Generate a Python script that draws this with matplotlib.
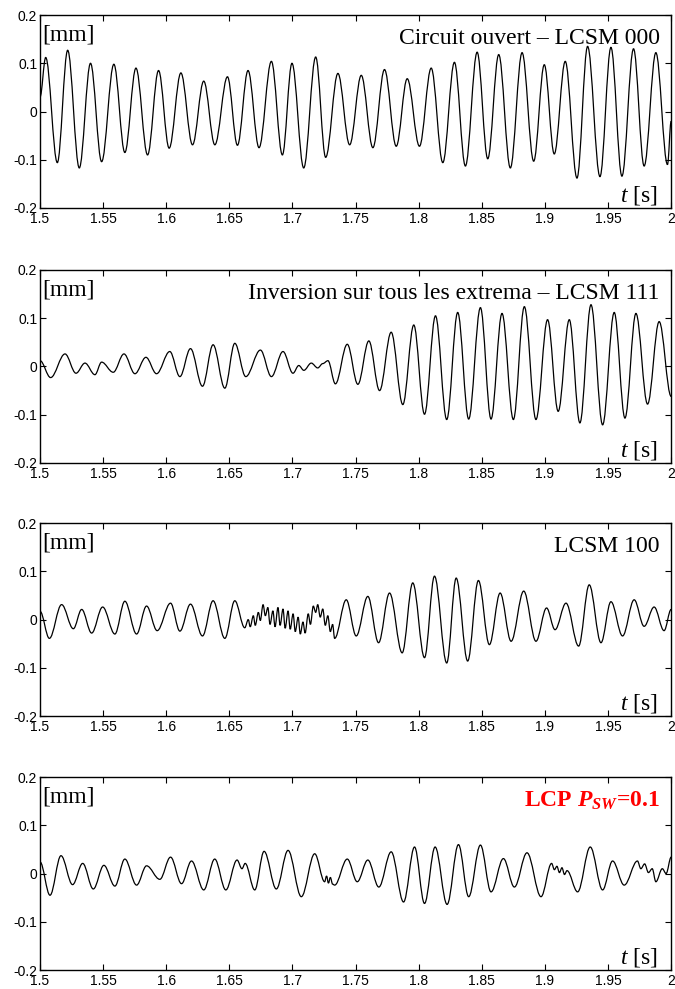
import matplotlib
matplotlib.use("Agg")
import matplotlib.pyplot as plt
from matplotlib.path import Path
from matplotlib.patches import PathPatch
from matplotlib.ticker import FuncFormatter

# peaks / troughs: (t [s], displacement [mm])
sig_000 = [
    (1.5, 0.030), (1.5045, 0.112), (1.5137, -0.106), (1.5219, 0.127), (1.5311, -0.117),
    (1.5400, 0.100), (1.5488, -0.104), (1.5585, 0.098), (1.5672, -0.085), (1.5760, 0.090),
    (1.5852, -0.090), (1.5939, 0.085), (1.6023, -0.076), (1.6116, 0.080), (1.6208, -0.069),
    (1.6297, 0.063), (1.6385, -0.069), (1.6485, 0.072), (1.6564, -0.070), (1.6648, 0.085),
    (1.6735, -0.075), (1.6833, 0.104), (1.6920, -0.090), (1.6996, 0.100), (1.7089, -0.117),
    (1.7184, 0.113), (1.7263, -0.095), (1.7360, 0.079), (1.7453, -0.069), (1.7545, 0.075),
    (1.7637, -0.075), (1.7729, 0.087), (1.7822, -0.072), (1.7909, 0.068), (1.8006, -0.072),
    (1.8099, 0.090), (1.8191, -0.106), (1.8283, 0.102), (1.8370, -0.113), (1.8463, 0.123),
    (1.8547, -0.098), (1.8634, 0.118), (1.8726, -0.117), (1.8819, 0.122), (1.8911, -0.103),
    (1.8995, 0.097), (1.9074, -0.088), (1.9161, 0.104), (1.9254, -0.138), (1.9338, 0.135),
    (1.9436, -0.135), (1.9523, 0.133), (1.9610, -0.134), (1.9702, 0.130), (1.9786, -0.113),
    (1.9879, 0.122), (1.9971, -0.110), (2.0, -0.020),
]

sig_111 = [
    (1.5, 0.012), (1.5084, -0.023), (1.5198, 0.026), (1.5285, -0.014), (1.5356, 0.007),
    (1.5435, -0.017), (1.5488, 0.009), (1.5580, -0.012), (1.5665, 0.026), (1.5752, -0.015),
    (1.5839, 0.019), (1.5923, -0.015), (1.6028, 0.031), (1.6108, -0.021), (1.6192, 0.037),
    (1.6287, -0.041), (1.6371, 0.045), (1.6464, -0.045), (1.6543, 0.048), (1.6630, -0.021),
    (1.6746, 0.034), (1.6833, -0.021), (1.6925, 0.031), (1.7004, -0.014), (1.7050, 0.002),
    (1.7090, -0.008), (1.7149, 0.007), (1.7200, -0.003), (1.7240, 0.006), (1.7281, 0.012),
    (1.7340, -0.036), (1.7434, 0.046), (1.7518, -0.037), (1.7605, 0.053), (1.7690, -0.050),
    (1.7782, 0.071), (1.7874, -0.079), (1.7961, 0.086), (1.8046, -0.099), (1.8133, 0.105),
    (1.8222, -0.110), (1.8309, 0.112), (1.8396, -0.109), (1.8489, 0.122), (1.8573, -0.109),
    (1.8660, 0.110), (1.8750, -0.110), (1.8837, 0.124), (1.8929, -0.110), (1.9021, 0.097),
    (1.9105, -0.093), (1.9193, 0.097), (1.9277, -0.117), (1.9365, 0.128), (1.9457, -0.121),
    (1.9549, 0.112), (1.9634, -0.107), (1.9721, 0.110), (1.9813, -0.078), (1.9905, 0.093),
    (2.0, -0.062),
]

sig_100 = [
    (1.5, 0.017), (1.5074, -0.039), (1.5171, 0.031), (1.5264, -0.019), (1.5330, 0.021),
    (1.5409, -0.028), (1.5496, 0.026), (1.5593, -0.030), (1.5672, 0.038), (1.5765, -0.030),
    (1.5844, 0.028), (1.5928, -0.023), (1.6034, 0.034), (1.6108, -0.024), (1.6192, 0.032),
    (1.6287, -0.034), (1.6371, 0.039), (1.6464, -0.039), (1.6543, 0.039), (1.6622, -0.017),
    (1.6650, 0.000), (1.6665, -0.015), (1.6690, 0.008), (1.6705, -0.012), (1.6730, 0.015),
    (1.6745, -0.002), (1.6767, 0.031), (1.6785, 0.008), (1.6805, 0.025), (1.6822, -0.010),
    (1.6845, 0.018), (1.6862, -0.015), (1.6885, 0.025), (1.6902, -0.012), (1.6925, 0.022),
    (1.6942, -0.018), (1.6965, 0.018), (1.6982, -0.020), (1.7005, 0.012), (1.7022, -0.025),
    (1.7045, 0.005), (1.7062, -0.030), (1.7083, -0.005), (1.7100, -0.028), (1.7125, 0.012),
    (1.7142, -0.010), (1.7165, 0.028), (1.7184, 0.015), (1.7200, 0.031), (1.7220, 0.005),
    (1.7240, 0.022), (1.7260, -0.012), (1.7280, 0.008), (1.7300, -0.025), (1.7318, -0.010),
    (1.7334, -0.039), (1.7426, 0.041), (1.7505, -0.034), (1.7597, 0.048), (1.7682, -0.048),
    (1.7769, 0.055), (1.7869, -0.069), (1.7953, 0.076), (1.8046, -0.079), (1.8125, 0.090),
    (1.8222, -0.090), (1.8297, 0.086), (1.8388, -0.086), (1.8473, 0.081), (1.8560, -0.052),
    (1.8645, 0.055), (1.8732, -0.045), (1.8832, 0.059), (1.8929, -0.045), (1.9013, 0.024),
    (1.9080, -0.021), (1.9167, 0.034), (1.9267, -0.055), (1.9351, 0.072), (1.9444, -0.048),
    (1.9523, 0.037), (1.9615, -0.034), (1.9707, 0.041), (1.9786, -0.014), (1.9865, 0.026),
    (1.9944, -0.023), (2.0, 0.021),
]

sig_lcp = [
    (1.5, 0.024), (1.5079, -0.045), (1.5166, 0.037), (1.5258, -0.023), (1.5338, 0.021),
    (1.5422, -0.032), (1.5506, 0.017), (1.5593, -0.026), (1.5672, 0.030), (1.5765, -0.024),
    (1.5844, 0.016), (1.5949, -0.012), (1.6034, 0.034), (1.6121, -0.021), (1.6200, 0.026),
    (1.6297, -0.034), (1.6384, 0.030), (1.6472, -0.034), (1.6561, 0.028), (1.6600, 0.010),
    (1.6625, 0.021), (1.6701, -0.034), (1.6775, 0.046), (1.6872, -0.032), (1.6965, 0.048),
    (1.7070, -0.048), (1.7176, 0.041), (1.7255, -0.017), (1.7270, -0.005), (1.7285, -0.020),
    (1.7300, -0.008), (1.7318, -0.022), (1.7334, -0.024), (1.7434, 0.030), (1.7513, -0.017),
    (1.7597, 0.028), (1.7684, -0.028), (1.7782, 0.045), (1.7880, -0.059), (1.7967, 0.055),
    (1.8046, -0.062), (1.8130, 0.055), (1.8225, -0.064), (1.8315, 0.060), (1.8396, -0.048),
    (1.8489, 0.059), (1.8573, -0.038), (1.8671, 0.031), (1.8758, -0.028), (1.8858, 0.043),
    (1.8969, -0.048), (1.9053, 0.021), (1.9075, 0.008), (1.9095, 0.015), (1.9115, 0.002),
    (1.9135, 0.012), (1.9155, -0.002), (1.9175, 0.006), (1.9259, -0.038), (1.9359, 0.055),
    (1.9457, -0.034), (1.9536, 0.026), (1.9628, -0.024), (1.9733, 0.026), (1.9760, 0.010),
    (1.9790, 0.020), (1.9820, 0.002), (1.9850, 0.010), (1.9879, -0.017), (1.9930, 0.010),
    (1.9960, 0.000), (2.0, 0.034),
]

signals = [sig_000, sig_111, sig_100, sig_lcp]
labels = [
    "Circuit ouvert \u2013 LCSM 000",
    "Inversion sur tous les extrema \u2013 LCSM 111",
    "LCSM 100",
    r"LCP $\mathbf{P}_{\mathbf{SW}}$=0.1",
]
label_colors = ["black", "black", "black", "red"]
label_weights = ["normal", "normal", "normal", "bold"]

x_ticks = [1.5, 1.55, 1.6, 1.65, 1.7, 1.75, 1.8, 1.85, 1.9, 1.95, 2.0]
y_ticks = [-0.2, -0.1, 0, 0.1, 0.2]


def extrema_path(points, k=0.36):
    # smooth half-waves between successive extrema (flat tangent at each one)
    verts = [points[0]]
    codes = [Path.MOVETO]
    for (t0, y0), (t1, y1) in zip(points[:-1], points[1:]):
        h = t1 - t0
        verts += [(t0 + k * h, y0), (t1 - k * h, y1), (t1, y1)]
        codes += [Path.CURVE4] * 3
    return Path(verts, codes)


serif = "Liberation Serif"
plt.rcParams["font.family"] = "Liberation Sans"
plt.rcParams["mathtext.fontset"] = "custom"
plt.rcParams["mathtext.rm"] = serif
plt.rcParams["mathtext.it"] = serif + ":italic"
plt.rcParams["mathtext.bf"] = serif + ":bold:italic"

fig = plt.figure(figsize=(6.75, 9.89), dpi=100)
fmt = FuncFormatter(lambda v, p: "%g" % v)

bottoms = [0.7897, 0.5319, 0.2760, 0.0192]
for sig, lab, col, wt, bot in zip(signals, labels, label_colors, label_weights, bottoms):
    ax = fig.add_axes([0.0593, bot, 0.935, 0.1951])
    ax.add_patch(PathPatch(extrema_path(sig), fill=False, edgecolor="black", lw=0.9))

    ax.set_xlim(1.5, 2.0)
    ax.set_ylim(-0.2, 0.2)
    ax.set_xticks(x_ticks)
    ax.set_yticks(y_ticks)
    ax.xaxis.set_major_formatter(fmt)
    ax.yaxis.set_major_formatter(fmt)
    ax.tick_params(direction="in", top=True, right=True, length=4, width=0.8,
                   labelsize=10, pad=2)
    ax.tick_params(axis="x", pad=3)
    for s in ax.spines.values():
        s.set_linewidth(1.0)

    ax.text(0.004, 0.867, "[mm]", transform=ax.transAxes, family=serif,
            fontsize=17, ha="left", va="baseline")
    ax.text(0.982, 0.848, lab, transform=ax.transAxes, family=serif,
            fontsize=17, ha="right", va="baseline", color=col, fontweight=wt)
    ax.text(0.979, 0.033, r"$t$ [s]", transform=ax.transAxes, family=serif,
            fontsize=17, ha="right", va="baseline")

fig.savefig("out.png", dpi=100)
